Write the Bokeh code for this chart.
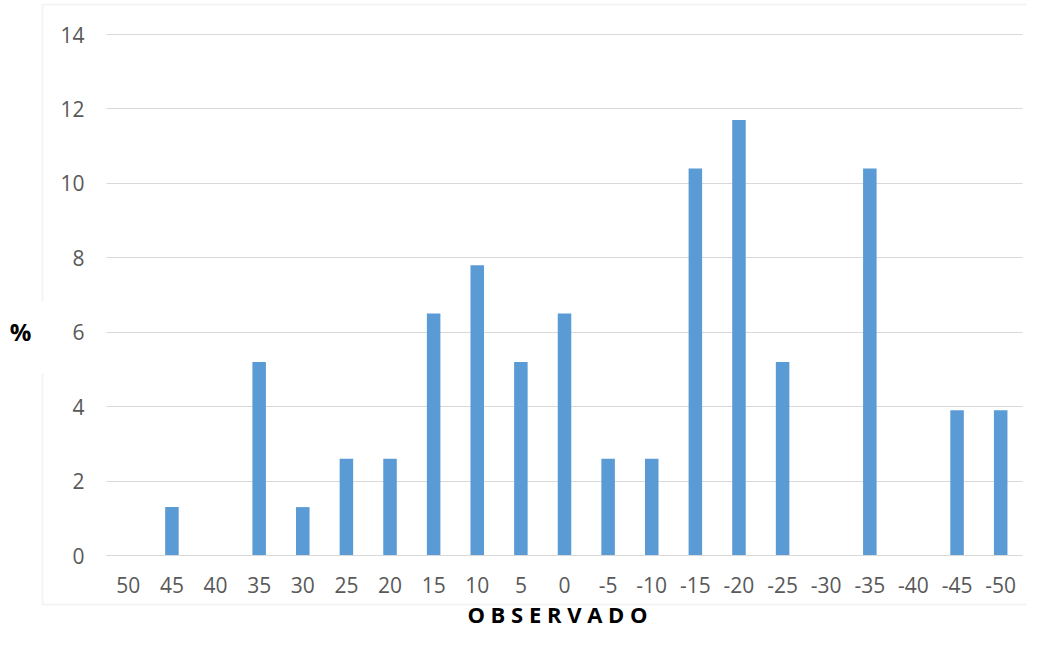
from bokeh.plotting import figure
from bokeh.models import BoxAnnotation, Label, Range1d, FixedTicker, Grid
from bokeh.embed import file_html
from bokeh.resources import INLINE

categories = ["50", "45", "40", "35", "30", "25", "20", "15", "10", "5", "0",
              "-5", "-10", "-15", "-20", "-25", "-30", "-35", "-40", "-45", "-50"]
values = [0, 1.3, 0, 5.2, 1.3, 2.6, 2.6, 6.5, 7.8, 5.2, 6.5,
          2.6, 2.6, 10.4, 11.7, 5.2, 0, 10.4, 0, 3.9, 3.9]
y_ticks = [0, 2, 4, 6, 8, 10, 12, 14]
x_title = "O B S E R V A D O"
y_title = "%"

FONT = "Open Sans"
GRID = "#d9d9d9"
TXT = "#595959"
BAR = "#5b9bd5"

# canvas layout (pixels)
W, H = 1027, 629
L, R, T, B = 106, 1022, 34, 555   # plotting area
n = len(categories)
xs = list(range(n))
y_max = y_ticks[-1]
dx = (R - L) / n
dy = (B - T) / y_max

p = figure(width=W, height=H,
           x_range=Range1d(-0.5 - L / dx, n - 0.5 + (W - R) / dx),
           y_range=Range1d(-(H - B) / dy, y_max + T / dy),
           output_backend="svg", toolbar_location=None, min_border=0)
p.outline_line_color = None
p.background_fill_color = "white"
p.border_fill_color = "white"

p.vbar(x=xs, top=values, width=0.31, fill_color=BAR, line_color=None)

# axes drawn inside the canvas at fixed data locations
xa = p.xaxis[0]
ya = p.yaxis[0]
xa.fixed_location = 0
ya.fixed_location = -0.5
xa.bounds = (-0.5, n - 0.5)
ya.bounds = (0, y_max)
xa.ticker = FixedTicker(ticks=xs)
xa.major_label_overrides = {i: c for i, c in enumerate(categories)}
ya.ticker = FixedTicker(ticks=y_ticks)
for ax in (xa, ya):
    ax.major_tick_line_color = None
    ax.minor_tick_line_color = None
    ax.major_tick_in = 0
    ax.major_tick_out = 0
    ax.major_label_text_font = FONT
    ax.major_label_text_font_size = "21px"
    ax.major_label_text_color = TXT
ya.axis_line_color = None
xa.axis_line_color = GRID
xa.axis_line_width = 1
ya.major_label_standoff = 22
xa.major_label_standoff = 21

p.xgrid.grid_line_color = None
yg = p.ygrid[0]
yg.grid_line_color = GRID
yg.grid_line_width = 1
if "cross_bounds" in Grid.properties():
    yg.cross_bounds = (-0.5, n - 0.5)
else:
    yg.grid_line_color = None
    p.segment(x0=-0.5, x1=n - 0.5, y0=y_ticks, y1=y_ticks,
              line_color=GRID, line_width=1, level="underlay")

# chart-area border with a gap for the "%" label
p.add_layout(BoxAnnotation(left=42, right=W + 20, top=4, bottom=604,
                           left_units="canvas", right_units="canvas",
                           top_units="canvas", bottom_units="canvas",
                           fill_alpha=0, line_color=GRID, line_width=2,
                           level="underlay"))
p.add_layout(BoxAnnotation(left=36, right=48, top=301, bottom=373,
                           left_units="canvas", right_units="canvas",
                           top_units="canvas", bottom_units="canvas",
                           fill_color="white", fill_alpha=1, line_color=None,
                           level="underlay"))

p.add_layout(Label(x=20, y=331, x_units="canvas", y_units="canvas", text=y_title,
                   text_font=FONT, text_font_style="bold", text_font_size="24px",
                   text_color="black", text_align="center", text_baseline="middle"))
p.add_layout(Label(x=557, y=613, x_units="canvas", y_units="canvas", text=x_title,
                   text_font=FONT, text_font_style="bold", text_font_size="22px",
                   text_color="black", text_align="center", text_baseline="middle"))

open("out.html", "w").write(file_html(p, INLINE))
